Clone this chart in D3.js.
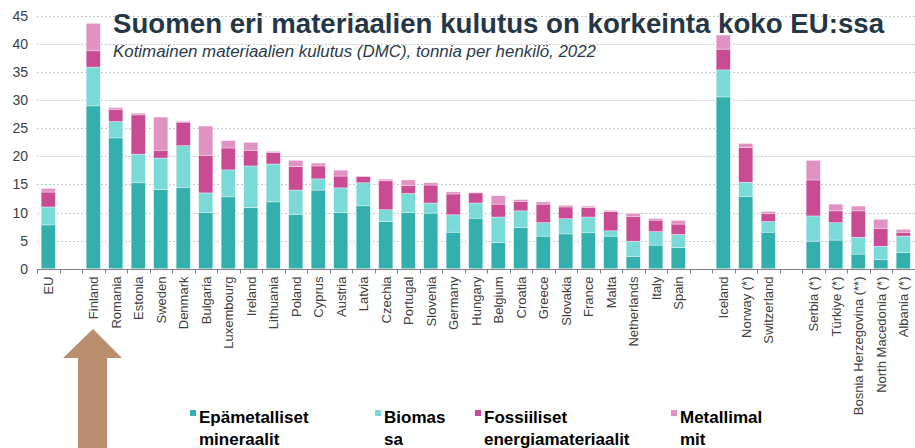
<!DOCTYPE html>
<html>
<head>
<meta charset="utf-8">
<script src="https://cdn.jsdelivr.net/npm/d3@7"></script>
<style>
  body { margin: 0; background: #fff; }
  svg { display: block; font-family: "Liberation Sans", Arial, sans-serif; }
</style>
</head>
<body>
<div id="chart"></div>
<script>
// slots: empty strings are the gaps between groups
const countries = ['EU', '', 'Finland', 'Romania', 'Estonia', 'Sweden', 'Denmark', 'Bulgaria', 'Luxembourg',
  'Ireland', 'Lithuania', 'Poland', 'Cyprus', 'Austria', 'Latvia', 'Czechia', 'Portugal', 'Slovenia',
  'Germany', 'Hungary', 'Belgium', 'Croatia', 'Greece', 'Slovakia', 'France', 'Malta', 'Netherlands',
  'Italy', 'Spain', '', 'Iceland', 'Norway (*)', 'Switzerland', '', 'Serbia (*)', 'Türkiye (*)',
  'Bosnia Herzegovina (**)', 'North Macedonia (*)', 'Albania (*)'];

const mineral = [7.8, 0, 29.0, 23.3, 15.3, 14.1, 14.5, 10.0, 12.8, 10.9, 11.9, 9.7, 14.0, 10.0, 11.2, 8.4, 10.0, 9.9,
  6.5, 9.0, 4.7, 7.3, 5.8, 6.2, 6.4, 5.8, 2.2, 4.2, 3.8, 0, 30.6, 12.9, 6.5, 0, 4.9, 5.1, 2.6, 1.6, 2.9];
const biomass = [3.2, 0, 6.9, 2.9, 5.1, 5.6, 7.4, 3.5, 4.8, 7.4, 6.75, 4.3, 2.0, 4.4, 4.1, 2.1, 3.4, 1.8,
  3.1, 2.7, 4.5, 3.0, 2.4, 2.7, 2.8, 0.95, 2.7, 2.4, 2.3, 0, 4.8, 2.5, 1.9, 0, 4.5, 3.1, 3.0, 2.4, 2.9];
const fossil = [2.65, 0, 2.9, 2.2, 7.0, 1.4, 4.2, 6.7, 3.9, 2.8, 2.05, 4.2, 2.3, 2.1, 1.1, 5.15, 1.4, 3.2,
  3.7, 1.8, 2.3, 1.7, 3.3, 2.1, 1.7, 3.45, 4.35, 2.05, 1.85, 0, 3.7, 6.2, 1.45, 0, 6.4, 2.1, 4.7, 3.2, 0.7];
const metal = [0.65, 0, 4.9, 0.3, 0.3, 5.9, 0.15, 5.2, 1.3, 1.4, 0.2, 1.1, 0.5, 1.05, 0.1, 0.3, 1.0, 0.4,
  0.4, 0.1, 1.5, 0.3, 0.4, 0.3, 0.25, 0.2, 0.6, 0.3, 0.65, 0, 2.5, 0.7, 0.35, 0, 3.5, 1.2, 0.85, 1.6, 0.5];

const seriesKeys = ['mineral', 'biomass', 'fossil', 'metal'];
const seriesNames = [['Epämetalliset', 'mineraalit'], ['Biomas', 'sa'], ['Fossiiliset', 'energiamateriaalit'], ['Metallimal', 'mit']];
const colors = ['#33b0ae', '#7bdad8', '#c84b93', '#e092c2'];
const yTicks = [0, 5, 10, 15, 20, 25, 30, 35, 40, 45];

const width = 915, height = 448;
const margin = {top: 16, right: 1, bottom: 179, left: 37};

let rows = countries.map((c, i) => ({
  key: 'k' + i, label: c,
  mineral: mineral[i], biomass: biomass[i], fossil: fossil[i], metal: metal[i]
}));

let svg = d3.select('#chart').append('svg').attr('width', width).attr('height', height);

let x = d3.scaleBand()
  .domain(rows.map(d => d.key))
  .range([margin.left, width - margin.right + 0.5])
  .paddingInner(0.37)
  .paddingOuter(0.185);

let y = d3.scaleLinear().domain([0, 45]).range([height - margin.bottom - 0.3, margin.top]);

// grid
svg.append('g').selectAll('line')
  .data(yTicks.filter(t => t > 0))
  .enter().append('line')
  .attr('x1', margin.left).attr('x2', width)
  .attr('y1', d => Math.round(y(d)) + 0.5).attr('y2', d => Math.round(y(d)) + 0.5)
  .attr('stroke', '#c8c8c8').attr('stroke-width', 1).attr('stroke-dasharray', '2,2');

// y labels
svg.append('g').selectAll('text')
  .data(yTicks)
  .enter().append('text')
  .attr('x', 28).attr('y', d => y(d) + 5)
  .attr('text-anchor', 'end')
  .style('font-size', '14px').attr('fill', '#404040')
  .text(d => d);

// bars
let stack = d3.stack().keys(seriesKeys);
let layers = stack(rows);

svg.append('g').selectAll('g')
  .data(layers)
  .enter().append('g')
  .attr('fill', (d, i) => colors[i])
  .selectAll('rect')
  .data(d => d.filter(p => p[1] - p[0] > 0))
  .enter().append('rect')
  .attr('x', d => x(d.data.key))
  .attr('width', x.bandwidth())
  .attr('y', d => y(d[1]))
  .attr('height', d => y(d[0]) - y(d[1]))
  .attr('stroke', '#ffffff').attr('stroke-width', 0.6).attr('stroke-opacity', 0.6);

// x axis line and ticks
let baseY = Math.round(y(0)) + 0.5;
svg.append('line')
  .attr('x1', margin.left).attr('x2', width)
  .attr('y1', baseY).attr('y2', baseY)
  .attr('stroke', '#808080');

let step = x.step();
svg.append('g').selectAll('line')
  .data(d3.range(rows.length + 1))
  .enter().append('line')
  .attr('x1', i => Math.round(margin.left + i * step) + 0.5)
  .attr('x2', i => Math.round(margin.left + i * step) + 0.5)
  .attr('y1', baseY).attr('y2', baseY + 4)
  .attr('stroke', '#808080');

// x labels
svg.append('g').selectAll('text')
  .data(rows.filter(d => d.label))
  .enter().append('text')
  .attr('transform', d => 'translate(' + (x(d.key) + x.bandwidth() / 2 + 5) + ',' + (baseY + 7) + ') rotate(-90)')
  .attr('text-anchor', 'end')
  .style('font-size', '13px').attr('fill', '#404040')
  .text(d => d.label);

// title
svg.append('text')
  .attr('x', 113).attr('y', 33)
  .style('font-size', '27px').style('font-weight', 'bold').attr('fill', '#253746')
  .attr('textLength', 771).attr('lengthAdjust', 'spacingAndGlyphs')
  .text('Suomen eri materiaalien kulutus on korkeinta koko EU:ssa');

svg.append('text')
  .attr('x', 113).attr('y', 57)
  .style('font-size', '16px').style('font-style', 'italic').attr('fill', '#2b3a4a')
  .attr('textLength', 483).attr('lengthAdjust', 'spacingAndGlyphs')
  .text('Kotimainen materiaalien kulutus (DMC), tonnia per henkilö, 2022');

// arrow
let arrowPts = [[93, 329], [122, 358], [107, 358], [107, 448], [78, 448], [78, 358], [63, 358]];
svg.append('polygon')
  .attr('points', arrowPts.map(p => p.join(',')).join(' '))
  .attr('fill', '#b98f70');

// legend
let legendX = [190, 375, 475, 671];
let legend = svg.append('g').selectAll('g')
  .data(seriesNames)
  .enter().append('g')
  .attr('transform', (d, i) => 'translate(' + legendX[i] + ',0)');

legend.append('rect')
  .attr('x', 0).attr('y', 410)
  .attr('width', 6).attr('height', 6)
  .attr('fill', (d, i) => colors[i]);

legend.append('text')
  .attr('x', 9).attr('y', 423)
  .style('font-size', '17px').style('font-weight', 'bold').attr('fill', '#000')
  .text(d => d[0]);

legend.append('text')
  .attr('x', 9).attr('y', 445)
  .style('font-size', '17px').style('font-weight', 'bold').attr('fill', '#000')
  .text(d => d[1]);
</script>
</body>
</html>
